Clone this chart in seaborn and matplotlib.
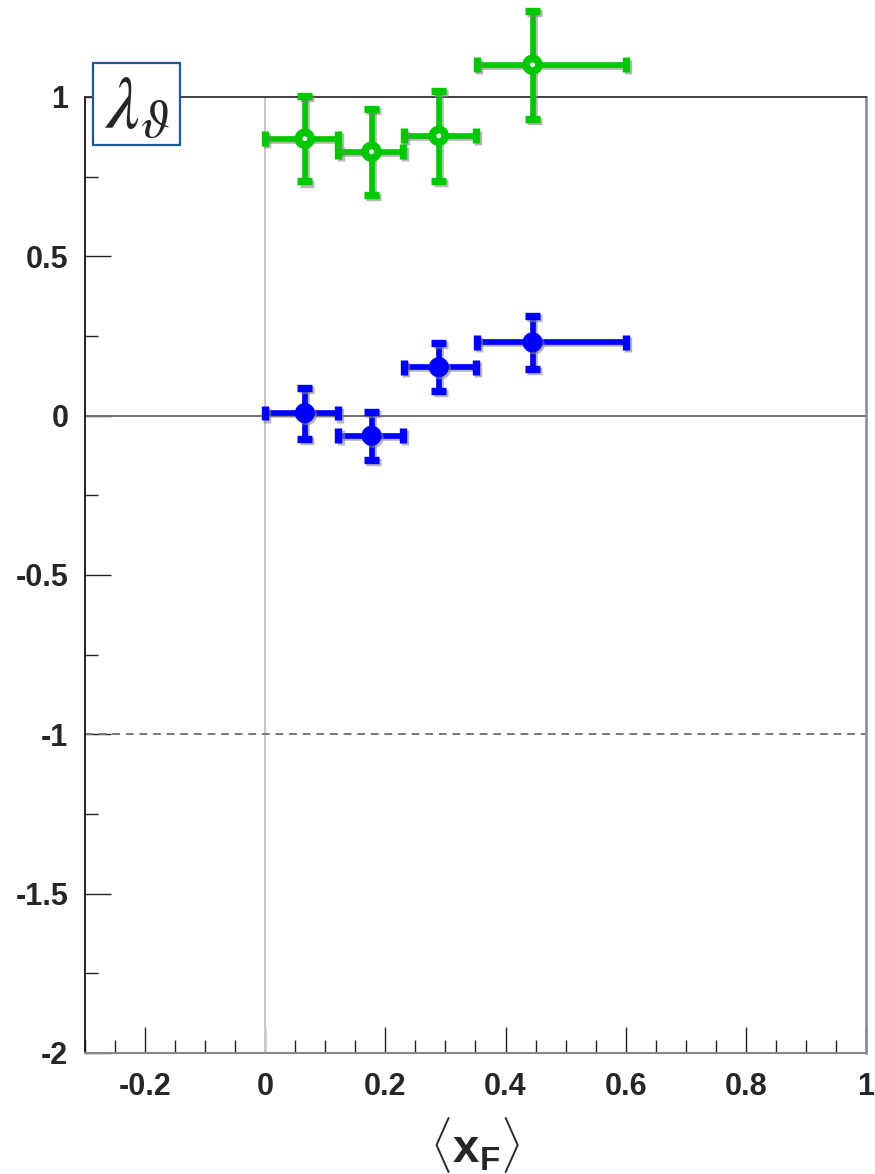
import matplotlib
matplotlib.use("Agg")
import matplotlib.pyplot as plt
import matplotlib.patheffects as pe
from matplotlib.patches import Rectangle
from matplotlib.ticker import MultipleLocator, FuncFormatter
import numpy as np
import pandas as pd
import seaborn as sns

# Bin edges in <x_F> and the mean x_F of each bin
bin_lo = [0.0, 0.122, 0.231, 0.352]
bin_hi = [0.121, 0.230, 0.351, 0.600]
xf_mean = [0.066, 0.177, 0.289, 0.445]

# lambda_theta, open markers (green)
lam_open = [0.869, 0.828, 0.878, 1.101]
err_open = [0.134, 0.135, 0.142, 0.170]

# lambda_theta, filled markers (blue)
lam_fill = [0.008, -0.063, 0.152, 0.230]
err_fill = [0.080, 0.075, 0.075, 0.084]

GREEN = "#00c800"
BLUE = "#0000ff"

sns.set_theme(style="white")
plt.rcParams["font.family"] = ["Liberation Sans", "DejaVu Sans"]
plt.rcParams["mathtext.fontset"] = "custom"
plt.rcParams["mathtext.rm"] = "Liberation Sans"
plt.rcParams["mathtext.bf"] = "Liberation Sans:bold"
plt.rcParams["mathtext.it"] = "Liberation Sans:italic"

fig = plt.figure(figsize=(8.75, 11.74), dpi=100)
ax = fig.add_axes([0.0971, 0.1031, 0.8926, 0.8143])

shadow = [pe.SimpleLineShadow(offset=(1.5, -1.5), shadow_color="#888888", alpha=0.6), pe.Normal()]

df = pd.DataFrame({
    "xf": xf_mean * 2,
    "lam": lam_open + lam_fill,
    "err": err_open + err_fill,
    "lo": bin_lo * 2,
    "hi": bin_hi * 2,
    "set": ["open"] * 4 + ["filled"] * 4,
})

# reference lines
ax.axhline(0, color="#707070", lw=1.4, zorder=1)
ax.axvline(0, color="#c8c8c8", lw=1.5, zorder=1)
ax.axhline(-1, color="#777777", lw=1.4, ls=(0, (4, 3)), zorder=1)

for name, col in [("open", GREEN), ("filled", BLUE)]:
    d = df[df["set"] == name]
    xerr = np.vstack([d["xf"] - d["lo"], d["hi"] - d["xf"]])
    eb = ax.errorbar(d["xf"], d["lam"], yerr=d["err"], xerr=xerr, fmt="none",
                     ecolor=col, elinewidth=4.1, capsize=5.3, capthick=5.3, zorder=3)
    for art in list(eb.lines[1]) + list(eb.lines[2]):
        art.set_path_effects(shadow)
        art.set_clip_on(False)

sns.scatterplot(data=df[df["set"] == "open"], x="xf", y="lam", ax=ax, marker="o",
                s=85, facecolor="white", edgecolor=GREEN, linewidth=5.6, zorder=4, legend=False)
sns.scatterplot(data=df[df["set"] == "filled"], x="xf", y="lam", ax=ax, marker="o",
                s=210, color=BLUE, edgecolor=BLUE, linewidth=0, zorder=4, legend=False)
for coll in ax.collections:
    coll.set_clip_on(False)
    if coll.get_offsets().shape[0] == 4 and coll.get_sizes().size:
        coll.set_path_effects([pe.SimplePatchShadow(offset=(1.5, -1.5), shadow_rgbFace="#888888", alpha=0.6), pe.Normal()])

ax.set_xlim(-0.3, 1.0)
ax.set_ylim(-2.0, 1.0)
ax.xaxis.set_major_locator(MultipleLocator(0.2))
ax.xaxis.set_minor_locator(MultipleLocator(0.05))
ax.yaxis.set_major_locator(MultipleLocator(0.5))
ax.yaxis.set_minor_locator(MultipleLocator(0.25))

fmt = FuncFormatter(lambda v, p: ("%g" % round(v, 3)).replace("\u2212", "-"))
ax.xaxis.set_major_formatter(fmt)
ax.yaxis.set_major_formatter(fmt)

ax.tick_params(axis="both", which="both", direction="in", top=False, right=False,
               bottom=True, left=True, color="#222222", width=1.0)
ax.tick_params(axis="both", which="major", length=18.5, labelsize=22)
ax.tick_params(axis="both", which="minor", length=9.3)
ax.tick_params(axis="y", which="major", pad=12)
ax.tick_params(axis="x", which="major", pad=14)
for lab in ax.get_xticklabels() + ax.get_yticklabels():
    lab.set_fontweight("bold")

ax.spines["left"].set_color("#111111")
ax.spines["left"].set_linewidth(1.3)
ax.spines["top"].set_color("#333333")
ax.spines["top"].set_linewidth(1.3)
ax.spines["right"].set_color("#888888")
ax.spines["right"].set_linewidth(1.8)
ax.spines["bottom"].set_color("#888888")
ax.spines["bottom"].set_linewidth(1.5)

ax.set_xlabel(r"$\langle\mathbf{x}_{\mathbf{F}}\rangle$", fontsize=34, labelpad=9)
ax.set_ylabel("")
ax.grid(False)

# observable label box in the top-left corner
box = Rectangle((0.1063, 0.8765), 0.0994, 0.0698, transform=fig.transFigure,
                facecolor="white", edgecolor="#1f5a96", lw=1.6, zorder=10)
fig.patches.append(box)
fig.text(0.157, 0.907, r"$\lambda_{\vartheta}$", fontsize=54, ha="center", va="center",
         math_fontfamily="stix", zorder=11)

fig.savefig("out.png", dpi=100)
